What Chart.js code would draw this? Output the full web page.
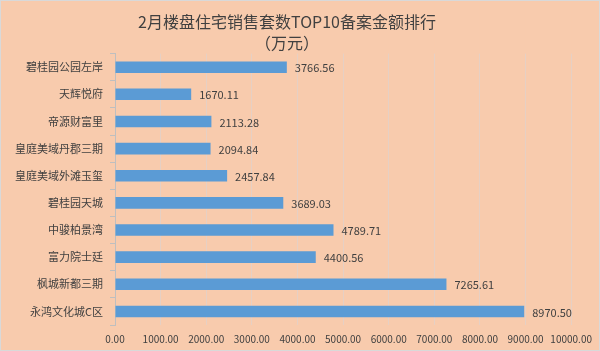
<!DOCTYPE html>
<html>
<head>
<meta charset="utf-8">
<script src="https://cdn.jsdelivr.net/npm/chart.js@4"></script>
<style>
  html, body { margin: 0; padding: 0; background: #F8CBAD; }
  #wrap { width: 600px; height: 351px; }
</style>
</head>
<body>
<div id="wrap"><canvas id="salesChart"></canvas></div>
<script>
// 楼盘名称（从上到下）
const projects = ["碧桂园公园左岸", "天辉悦府", "帝源财富里", "皇庭美域丹郡三期", "皇庭美域外滩玉玺",
  "碧桂园天城", "中骏柏景湾", "富力院士廷", "枫城新都三期", "永鸿文化城C区"];
// 备案金额（万元）
const amounts = [3766.56, 1670.11, 2113.28, 2094.84, 2457.84, 3689.03, 4789.71, 4400.56, 7265.61, 8970.50];
const titleLines = ["2月楼盘住宅销售套数TOP10备案金额排行", "（万元）"];
const axisMax = 10000;
const axisStep = 1000;

const textFont = "'Noto Sans CJK SC', 'Noto Sans', sans-serif";

// background + thin frame
const bgPlugin = {
  id: "bg",
  beforeDraw(chart) {
    const ctx = chart.ctx;
    ctx.save();
    ctx.fillStyle = "#F8CBAD";
    ctx.fillRect(0, 0, chart.width, chart.height);
    ctx.strokeStyle = "#D9D9D9";
    ctx.lineWidth = 1;
    ctx.strokeRect(0.5, 0.5, chart.width - 1, chart.height - 1);
    ctx.restore();
  }
};

// value labels at the end of each bar
const valueLabels = {
  id: "valueLabels",
  afterDatasetsDraw(chart) {
    const ctx = chart.ctx;
    const meta = chart.getDatasetMeta(0);
    ctx.save();
    ctx.font = "11px " + textFont;
    ctx.fillStyle = "#404040";
    ctx.textBaseline = "middle";
    ctx.textAlign = "left";
    meta.data.forEach((bar, i) => {
      ctx.fillText(amounts[i].toFixed(2), bar.x + 8, bar.y + 1);
    });
    ctx.restore();
  }
};

new Chart(document.getElementById("salesChart"), {
  type: "bar",
  data: {
    labels: projects,
    datasets: [{
      data: amounts,
      backgroundColor: "#5B9BD5",
      borderWidth: 0,
      categoryPercentage: 0.82,
      barPercentage: 0.52
    }]
  },
  options: {
    indexAxis: "y",
    responsive: true,
    maintainAspectRatio: false,
    animation: false,
    layout: { padding: { left: 0, right: 26, top: 0, bottom: 0 } },
    plugins: {
      legend: { display: false },
      tooltip: { enabled: false },
      title: {
        display: true,
        text: titleLines,
        color: "#404040",
        font: { family: textFont, size: 16, weight: "normal", lineHeight: 1.3 },
        padding: { top: 12, bottom: 0 }
      }
    },
    scales: {
      x: {
        min: 0,
        max: axisMax,
        ticks: {
          stepSize: axisStep,
          color: "#404040",
          font: { family: textFont, size: 10 },
          padding: 8,
          callback: v => Number(v).toFixed(2),
          maxRotation: 0
        },
        grid: { color: "#E6D0C4", drawTicks: false },
        border: { display: false },
        afterFit(s) { s.height = 26; }
      },
      y: {
        ticks: {
          color: "#404040",
          font: { family: textFont, size: 11 },
          padding: 7
        },
        grid: { drawOnChartArea: false, color: "#BFBFBF", tickLength: 5, offset: true },
        border: { color: "#BFBFBF" },
        afterFit(s) { s.width = 115; }
      }
    }
  },
  plugins: [bgPlugin, valueLabels]
});
</script>
</body>
</html>
